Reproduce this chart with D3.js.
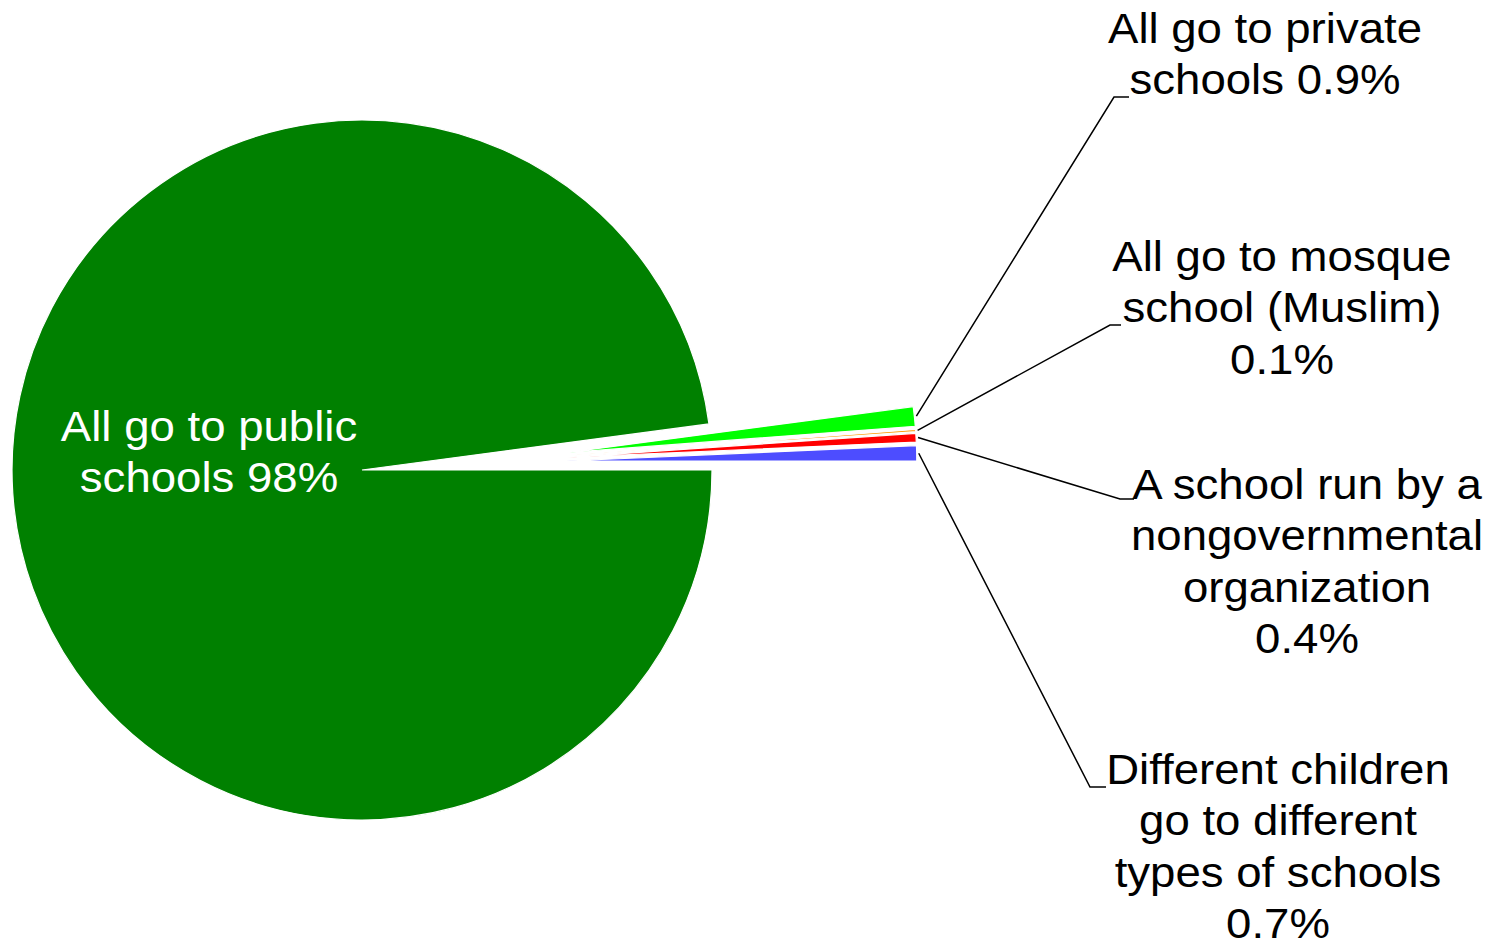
<!DOCTYPE html>
<html>
<head>
<meta charset="utf-8">
<script src="https://cdn.jsdelivr.net/npm/d3@7"></script>
<style>
  body { margin: 0; background: #fff; }
  svg text { font-family: "Liberation Sans", Arial, sans-serif; }
</style>
</head>
<body>
<svg id="chart" width="1499" height="943"></svg>
<script>
// categories and values (percent of households)
const categories = [
  "All go to public schools",
  "All go to private schools",
  "All go to mosque school (Muslim)",
  "A school run by a nongovernmental organization",
  "Different children go to different types of schools"
];
const values = [97.9, 0.9, 0.1, 0.4, 0.7];
const valueLabels = ["98%", "0.9%", "0.1%", "0.4%", "0.7%"];
// wrapped label lines, as in the original
const labelLines = [
  ["All go to public", "schools 98%"],
  ["All go to private", "schools 0.9%"],
  ["All go to mosque", "school (Muslim)", "0.1%"],
  ["A school run by a", "nongovernmental", "organization", "0.4%"],
  ["Different children", "go to different", "types of schools", "0.7%"]
];
const colors = ["#008000", "#00ff00", "#ff9900", "#ff0000", "#4d4dff"];

// layout
const cx = 362, cy = 470, radius = 350, explode = 205;
const lineH = 51.5, fontPx = 42, stretch = 1.085;
// label block: centre x, first baseline y, leader elbow (x,y)
const labelLayout = [
  {x: 209, y: 441, inside: true},
  {x: 1265, y: 43, elbow: [1114, 97], tail: 1129},
  {x: 1282, y: 271, elbow: [1110, 325], tail: 1121},
  {x: 1307, y: 499, elbow: [1120, 499], tail: 1134},
  {x: 1278, y: 784, elbow: [1090, 787], tail: 1106}
];

const svg = d3.select("#chart");

const data = categories.map((c, i) => ({name: c, value: values[i], idx: i}));

const pie = d3.pie()
  .sort(null)
  .value(d => d.value)
  .startAngle(Math.PI / 2)
  .endAngle(Math.PI / 2 + 2 * Math.PI);

const arc = d3.arc().innerRadius(0).outerRadius(radius);

const arcs = pie(data);

// small slices are pulled out; direction half way between own bisector and group middle
const small = arcs.slice(1);
const groupMid = (small[0].startAngle + small[small.length - 1].endAngle) / 2;

function offsetOf(d) {
  if (d.data.idx === 0) return [0, 0];
  const a = ((d.startAngle + d.endAngle) / 2 + groupMid) / 2;
  return [Math.sin(a) * explode, -Math.cos(a) * explode];
}

const g = svg.append("g").attr("transform", `translate(${cx},${cy})`);

g.selectAll("path.slice")
  .data(arcs)
  .enter()
  .append("path")
    .attr("class", "slice")
    .attr("d", arc)
    .attr("fill", d => colors[d.data.idx])
    .attr("stroke", "#fff")
    .attr("stroke-width", 1.2)
    .attr("transform", d => `translate(${offsetOf(d)})`);

// leader lines from the outer edge of each small slice
arcs.forEach(d => {
  const lay = labelLayout[d.data.idx];
  if (lay.inside) return;
  const a = (d.startAngle + d.endAngle) / 2;
  const off = offsetOf(d);
  const sx = cx + off[0] + Math.sin(a) * (radius + 2);
  const sy = cy + off[1] - Math.cos(a) * (radius + 2);
  svg.append("polyline")
    .attr("points", [[sx, sy], lay.elbow, [lay.tail, lay.elbow[1]]].map(p => p.join(",")).join(" "))
    .attr("fill", "none")
    .attr("stroke", "#000")
    .attr("stroke-width", 1.5);
});

// labels (the original text is a little wider than Arial)
labelLines.forEach((lines, i) => {
  const lay = labelLayout[i];
  const t = svg.append("text")
    .attr("text-anchor", "middle")
    .attr("font-size", fontPx)
    .attr("transform", `translate(${lay.x},0) scale(${stretch},1)`)
    .attr("fill", lay.inside ? "#fff" : "#000");
  lines.forEach((ln, j) => {
    t.append("tspan")
      .attr("x", 0)
      .attr("y", lay.y + j * lineH)
      .text(ln);
  });
});
</script>
</body>
</html>
